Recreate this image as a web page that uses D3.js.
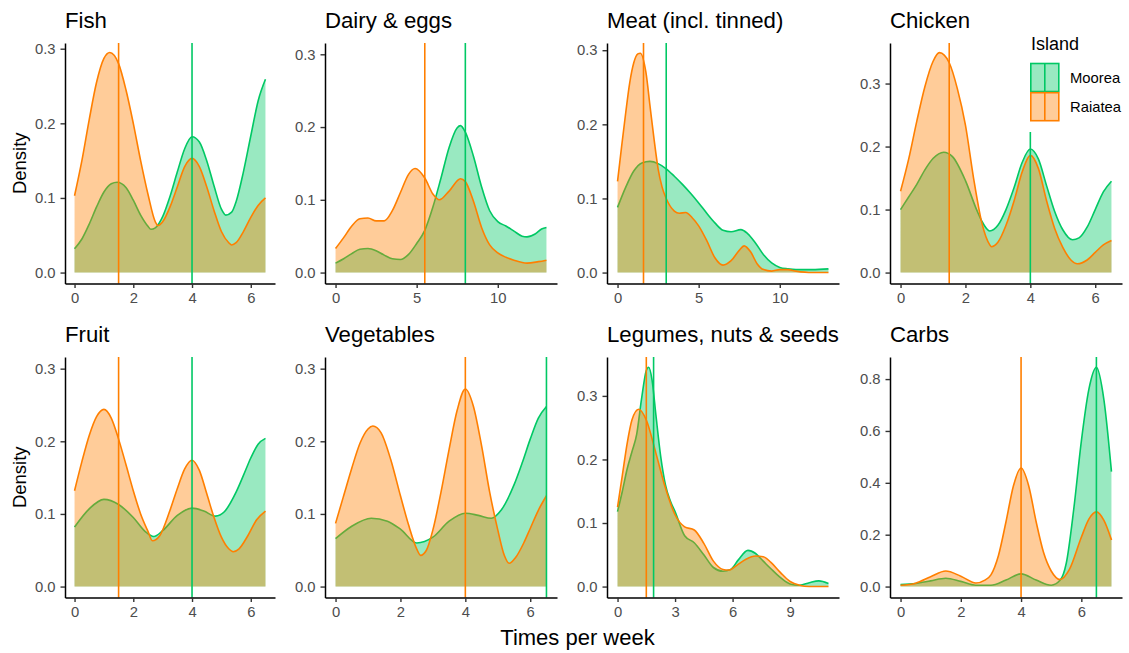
<!DOCTYPE html>
<html>
<head>
<meta charset="utf-8">
<script src="https://cdn.jsdelivr.net/npm/d3@7.9.0/dist/d3.min.js"></script>
<style>
  body { margin: 0; background: #fff; }
  svg { display: block; font-family: "Liberation Sans", Arial, sans-serif; }
</style>
</head>
<body>
<svg id="chart" width="1129" height="653"></svg>
<script>
// panel titles, in reading order
const foods = ['Fish', 'Dairy & eggs', 'Meat (incl. tinned)', 'Chicken',
  'Fruit', 'Vegetables', 'Legumes, nuts & seeds', 'Carbs'];
const islands = ['Moorea', 'Raiatea'];

// density curves: [times per week, density]
const fishMoorea = [[0,0.032],[0.25,0.045],[0.5,0.065],[0.75,0.088],[1,0.108],[1.25,0.119],[1.45,0.121],[1.75,0.114],[2,0.097],[2.25,0.077],[2.5,0.062],[2.6,0.058],[2.75,0.060],[3,0.075],[3.25,0.102],[3.5,0.135],[3.75,0.166],[4,0.182],[4.25,0.175],[4.5,0.150],[4.75,0.116],[5,0.085],[5.15,0.077],[5.35,0.081],[5.5,0.095],[5.75,0.135],[6,0.183],[6.25,0.230],[6.5,0.259]];
const fishRaiatea = [[0,0.103],[0.25,0.150],[0.5,0.205],[0.75,0.255],[1,0.287],[1.2,0.295],[1.5,0.280],[1.75,0.245],[2,0.200],[2.25,0.150],[2.5,0.105],[2.75,0.068],[2.85,0.063],[3,0.068],[3.25,0.088],[3.5,0.115],[3.75,0.142],[4,0.153],[4.25,0.142],[4.5,0.115],[4.75,0.083],[5,0.055],[5.25,0.040],[5.35,0.037],[5.5,0.040],[5.75,0.055],[6,0.074],[6.25,0.090],[6.5,0.100]];

const dairyMoorea = [[0,0.013],[0.5,0.019],[1,0.026],[1.5,0.032],[2,0.033],[2.5,0.030],[3,0.024],[3.5,0.019],[4,0.018],[4.5,0.025],[5,0.040],[5.5,0.058],[6,0.090],[6.5,0.130],[7,0.172],[7.5,0.199],[7.7,0.202],[8,0.193],[8.5,0.160],[9,0.118],[9.5,0.085],[10,0.070],[10.5,0.064],[11,0.057],[11.5,0.050],[11.8,0.049],[12.3,0.053],[12.7,0.060],[13,0.062]];
const dairyRaiatea = [[0,0.033],[0.5,0.048],[1,0.064],[1.5,0.074],[2,0.075],[2.5,0.071],[3,0.071],[3.5,0.085],[4,0.110],[4.5,0.135],[4.9,0.143],[5.5,0.130],[6,0.108],[6.4,0.100],[7,0.112],[7.7,0.129],[8,0.125],[8.5,0.098],[9,0.062],[9.5,0.038],[10,0.027],[10.5,0.021],[11,0.017],[11.8,0.013],[12.5,0.015],[13,0.017]];

const meatMoorea = [[0,0.088],[0.5,0.115],[1,0.137],[1.5,0.148],[2,0.150],[2.5,0.147],[3,0.140],[3.5,0.130],[4,0.119],[4.5,0.107],[5,0.094],[5.5,0.080],[6,0.067],[6.5,0.057],[7,0.055],[7.6,0.058],[8,0.053],[8.5,0.040],[9,0.024],[9.5,0.013],[10,0.007],[10.5,0.005],[11,0.004],[12,0.004],[13,0.005]];
const meatRaiatea = [[0,0.123],[0.25,0.170],[0.5,0.215],[0.75,0.256],[1,0.283],[1.25,0.295],[1.4,0.296],[1.75,0.270],[2,0.225],[2.25,0.180],[2.5,0.140],[2.75,0.115],[3,0.100],[3.5,0.083],[3.8,0.080],[4.2,0.081],[4.6,0.074],[5,0.063],[5.5,0.043],[6,0.020],[6.5,0.010],[7,0.016],[7.5,0.030],[7.8,0.036],[8.2,0.028],[8.6,0.012],[9,0.004],[9.5,0.002],[10,0.004],[10.5,0.004],[11,0.002],[12,0],[13,0]];

const chickenMoorea = [[0,0.100],[0.25,0.120],[0.5,0.140],[0.75,0.163],[1,0.181],[1.33,0.191],[1.6,0.184],[2,0.146],[2.35,0.099],[2.5,0.082],[2.75,0.066],[3,0.075],[3.25,0.100],[3.5,0.135],[3.75,0.175],[4,0.196],[4.25,0.180],[4.5,0.138],[4.75,0.097],[5,0.068],[5.3,0.052],[5.5,0.055],[5.75,0.072],[6,0.100],[6.25,0.128],[6.5,0.145]];
const chickenRaiatea = [[0,0.129],[0.25,0.180],[0.5,0.240],[0.75,0.295],[1,0.335],[1.2,0.349],[1.5,0.333],[1.75,0.292],[2,0.234],[2.25,0.150],[2.5,0.080],[2.75,0.044],[2.8,0.041],[3,0.048],[3.25,0.075],[3.5,0.114],[3.75,0.160],[4,0.186],[4.25,0.165],[4.5,0.114],[4.75,0.070],[5,0.040],[5.25,0.020],[5.45,0.014],[5.75,0.020],[6,0.032],[6.25,0.044],[6.5,0.051]];

const fruitMoorea = [[0,0.082],[0.5,0.107],[1,0.120],[1.5,0.113],[2,0.095],[2.4,0.076],[2.7,0.069],[3,0.077],[3.5,0.098],[4,0.108],[4.4,0.104],[4.8,0.097],[5.1,0.103],[5.5,0.130],[5.75,0.153],[6,0.177],[6.25,0.196],[6.5,0.204]];
const fruitRaiatea = [[0,0.132],[0.25,0.172],[0.5,0.208],[0.75,0.234],[1,0.244],[1.25,0.232],[1.5,0.203],[1.75,0.168],[2,0.132],[2.25,0.100],[2.5,0.076],[2.65,0.063],[2.9,0.070],[3.25,0.105],[3.5,0.135],[3.75,0.162],[4,0.174],[4.25,0.160],[4.5,0.128],[4.75,0.095],[5,0.068],[5.25,0.052],[5.4,0.048],[5.6,0.052],[5.9,0.070],[6.2,0.092],[6.5,0.104]];

const vegMoorea = [[0,0.066],[0.5,0.083],[1.1,0.094],[1.6,0.090],[2,0.079],[2.5,0.060],[3,0.068],[3.5,0.090],[4,0.101],[4.4,0.098],[4.8,0.094],[5.1,0.105],[5.5,0.140],[5.75,0.170],[6,0.203],[6.25,0.232],[6.5,0.248]];
const vegRaiatea = [[0,0.087],[0.25,0.125],[0.5,0.163],[0.75,0.197],[1,0.217],[1.15,0.221],[1.4,0.212],[1.7,0.175],[2,0.125],[2.25,0.085],[2.5,0.052],[2.62,0.043],[2.8,0.050],[3,0.078],[3.25,0.130],[3.5,0.189],[3.75,0.243],[4,0.272],[4.25,0.248],[4.5,0.194],[4.75,0.130],[5,0.078],[5.2,0.043],[5.35,0.032],[5.55,0.040],[5.8,0.060],[6,0.080],[6.25,0.105],[6.5,0.125]];

const legumeMoorea = [[0,0.118],[0.25,0.150],[0.5,0.185],[0.75,0.212],[1,0.240],[1.25,0.295],[1.5,0.340],[1.62,0.345],[1.8,0.325],[2,0.270],[2.25,0.205],[2.5,0.160],[2.75,0.135],[3,0.118],[3.5,0.080],[4,0.069],[4.5,0.050],[5,0.030],[5.5,0.024],[5.9,0.027],[6.3,0.042],[6.8,0.057],[7.2,0.052],[7.6,0.040],[8,0.028],[8.5,0.014],[9,0.004],[9.5,0.002],[10,0.006],[10.5,0.009],[11,0.005]];
const legumeRaiatea = [[0,0.125],[0.25,0.175],[0.5,0.225],[0.75,0.262],[1.1,0.279],[1.5,0.262],[2,0.210],[2.5,0.155],[3,0.113],[3.5,0.094],[4,0.089],[4.5,0.068],[5,0.040],[5.5,0.027],[5.8,0.026],[6.2,0.033],[6.7,0.043],[7.2,0.048],[7.6,0.047],[8,0.038],[8.5,0.022],[9,0.008],[9.5,0.002],[10,0],[11,0]];

const carbMoorea = [[0,0.008],[0.5,0.012],[1,0.022],[1.5,0.032],[2,0.020],[2.5,0.005],[3,0.005],[3.5,0.025],[4,0.049],[4.5,0.025],[5,0.005],[5.3,0.025],[5.5,0.090],[5.75,0.300],[6,0.560],[6.25,0.760],[6.5,0.845],[6.75,0.720],[7,0.443]];
const carbRaiatea = [[0,0.005],[0.5,0.013],[1,0.038],[1.5,0.060],[2,0.040],[2.5,0.014],[2.8,0.025],[3,0.045],[3.25,0.120],[3.5,0.250],[3.75,0.390],[4,0.457],[4.25,0.390],[4.5,0.250],[4.75,0.130],[5,0.060],[5.3,0.027],[5.6,0.065],[6,0.190],[6.25,0.260],[6.5,0.288],[6.75,0.255],[7,0.180]];

const mooreaCurves = [fishMoorea, dairyMoorea, meatMoorea, chickenMoorea, fruitMoorea, vegMoorea, legumeMoorea, carbMoorea];
const raiateaCurves = [fishRaiatea, dairyRaiatea, meatRaiatea, chickenRaiatea, fruitRaiatea, vegRaiatea, legumeRaiatea, carbRaiatea];

// median lines
const medianMoorea = [4, 8, 3, 4, 4, 6.5, 1.88, 6.5];
const medianRaiatea = [1.5, 5.5, 1.6, 1.5, 1.5, 4, 1.5, 4];

// axis limits and ticks for each panel
const xMax = [6.5, 13, 13, 6.5, 6.5, 6.5, 11, 7];
const yMax = [0.293, 0.3005, 0.295, 0.347, 0.301, 0.301, 0.344, 0.843];
const xTicks = [[0,2,4,6],[0,5,10],[0,5,10],[0,2,4,6],[0,2,4,6],[0,2,4,6],[0,3,6,9],[0,2,4,6]];
const yTicks = [[0,0.1,0.2,0.3],[0,0.1,0.2,0.3],[0,0.1,0.2,0.3],[0,0.1,0.2,0.3],
  [0,0.1,0.2,0.3],[0,0.1,0.2,0.3],[0,0.1,0.2,0.3],[0,0.2,0.4,0.6,0.8]];

const lineColor = { Moorea: '#00c864', Raiatea: '#ff7f00' };

const svg = d3.select('#chart');

// panel geometry (columns differ because of the shared y title)
const colLeft = [65, 325, 607, 890];
const colWidth = [210, 232, 232, 232];
const rowTop = [43, 357];
const panelH = 240.5;

foods.forEach((food, i) => {
  const col = i % 4, row = Math.floor(i / 4);
  const left = colLeft[col], w = colWidth[col];
  const top = rowTop[row], bottom = top + panelH;

  const x = d3.scaleLinear()
    .domain([-0.05 * xMax[i], 1.05 * xMax[i]])
    .range([left, left + w]);
  const y = d3.scaleLinear()
    .domain([-0.05 * yMax[i], 1.05 * yMax[i]])
    .range([bottom, top]);

  const g = svg.append('g');

  const area = d3.area()
    .x(d => x(d[0])).y0(y(0)).y1(d => y(d[1]))
    .curve(d3.curveMonotoneX);
  const line = d3.line()
    .x(d => x(d[0])).y(d => y(d[1]))
    .curve(d3.curveMonotoneX);

  [[mooreaCurves[i], 'Moorea'], [raiateaCurves[i], 'Raiatea']].forEach(([pts, isl]) => {
    g.append('path').attr('d', area(pts))
      .attr('fill', lineColor[isl]).attr('fill-opacity', 0.4);
    g.append('path').attr('d', line(pts))
      .attr('fill', 'none').attr('stroke', lineColor[isl]).attr('stroke-width', 1.6);
  });

  // medians
  [[medianMoorea[i], 'Moorea'], [medianRaiatea[i], 'Raiatea']].forEach(([m, isl]) => {
    g.append('line')
      .attr('x1', x(m)).attr('x2', x(m))
      .attr('y1', top).attr('y2', bottom)
      .attr('stroke', lineColor[isl]).attr('stroke-width', 1.6);
  });

  // axes
  const xAxis = d3.axisBottom(x).tickValues(xTicks[i]).tickFormat(d3.format('d'))
    .tickSizeInner(4.5).tickSizeOuter(0).tickPadding(4.7);
  const yAxis = d3.axisLeft(y).tickValues(yTicks[i]).tickFormat(d3.format('.1f'))
    .tickSizeInner(4.5).tickSizeOuter(0).tickPadding(5);

  const gx = g.append('g').attr('transform', `translate(0,${bottom})`).call(xAxis);
  const gy = g.append('g').attr('transform', `translate(${left},0)`).call(yAxis);
  [gx, gy].forEach(a => {
    a.select('.domain').attr('stroke', '#000').attr('stroke-width', 1.5);
    a.selectAll('.tick line').attr('stroke', '#333').attr('stroke-width', 1.4);
    a.selectAll('.tick text').attr('fill', '#4d4d4d')
      .style('font-size', '14.8px').style('font-family', '"Liberation Sans", Arial, sans-serif');
  });

  // panel title
  svg.append('text')
    .attr('x', left).attr('y', top - 15)
    .style('font-size', '22.2px').attr('fill', '#000')
    .text(food);

  if (col === 0) {
    svg.append('text')
      .attr('transform', `translate(26,${(top + bottom) / 2}) rotate(-90)`)
      .attr('text-anchor', 'middle')
      .style('font-size', '18.5px').attr('fill', '#000')
      .text('Density');
  }
});

// shared x title
svg.append('text')
  .attr('x', 577.5).attr('y', 645)
  .attr('text-anchor', 'middle')
  .style('font-size', '22px').attr('fill', '#000')
  .text('Times per week');

// legend, drawn inside the Chicken panel with a white background
const legend = svg.append('g');
legend.append('rect')
  .attr('x', 1020).attr('y', 28).attr('width', 109).attr('height', 104)
  .attr('fill', '#fff');
legend.append('text')
  .attr('x', 1031).attr('y', 50)
  .style('font-size', '18px').attr('fill', '#000')
  .text('Island');
islands.forEach((isl, k) => {
  const ky = 63.5 + k * 29.2;
  legend.append('rect')
    .attr('x', 1030.8).attr('y', ky).attr('width', 28).attr('height', 28)
    .attr('fill', lineColor[isl]).attr('fill-opacity', 0.4)
    .attr('stroke', lineColor[isl]).attr('stroke-width', 1.6);
  legend.append('line')
    .attr('x1', 1044.8).attr('x2', 1044.8).attr('y1', ky).attr('y2', ky + 28)
    .attr('stroke', lineColor[isl]).attr('stroke-width', 1.6);
  legend.append('text')
    .attr('x', 1070).attr('y', ky + 14).attr('dy', '0.35em')
    .style('font-size', '14.8px').attr('fill', '#000')
    .text(isl);
});
</script>
</body>
</html>
